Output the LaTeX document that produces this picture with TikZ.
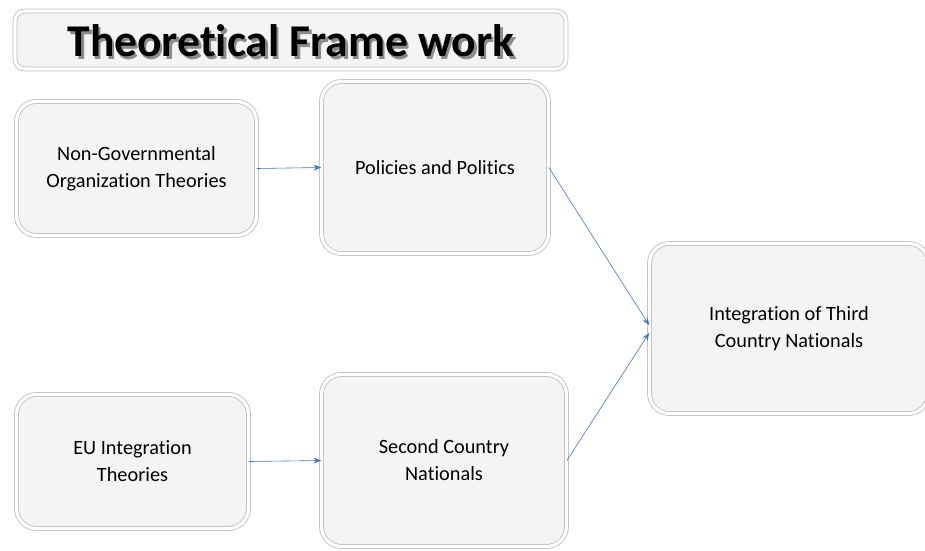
\documentclass[tikz,border=0pt]{standalone}
\usepackage{fontspec}
\setmainfont{Carlito}[Ligatures=NoCommon]
\usetikzlibrary{arrows.meta}
\definecolor{arrowblue}{HTML}{4472C4}
\definecolor{boxface}{HTML}{F4F4F4}
\definecolor{boxrim}{HTML}{BDBDBD}
\tikzset{
  bevelbox/.style={draw=boxrim, line width=0.8pt, double=white, double distance=3.2pt,
    fill=boxface, rounded corners=20pt, align=center, inner sep=0pt,
    font=\fontsize{20.3}{27}\selectfont},
  titlebox/.style={draw=boxrim, line width=0.8pt, double=white, double distance=3.2pt,
    fill=boxface, rounded corners=10pt, inner sep=0pt},
  link/.style={draw=arrowblue, line width=0.6pt, -{Stealth[length=7.5pt,width=6pt]}}
}
\newcommand{\shadowtext}[1]{\makebox[0pt][l]{\kern2.5pt\raisebox{-2.5pt}{\textcolor{black!45}{#1}}}#1}
\begin{document}
\begin{tikzpicture}[x=1pt,y=-1pt]
\useasboundingbox (0,0) rectangle (925,550);
% title
\node[titlebox, minimum width=551pt, minimum height=58pt] (title) at (290.5,40) {};
\node[font=\fontsize{45.5}{50}\bfseries\selectfont, inner sep=0pt] (titletext) at (291,42) {\shadowtext{Theoretical Frame work}};
% boxes
\node[bevelbox, minimum width=240pt, minimum height=134pt] (ngo) at (136.5,168.5) {Non-Governmental\\Organization Theories};
\node[bevelbox, minimum width=227pt, minimum height=172pt] (pol) at (435,167.5) {Policies and Politics};
\node[bevelbox, minimum width=279pt, minimum height=170pt] (int) at (789,328.5) {Integration of Third\\Country Nationals};
\node[bevelbox, minimum width=232pt, minimum height=134pt] (eu) at (132.5,461.5) {EU Integration\\Theories};
\node[bevelbox, minimum width=245pt, minimum height=172pt] (sec) at (444,460.5) {Second Country\\Nationals};
% connectors
\draw[link] (ngo.east) -- (pol.west);
\draw[link] (eu.east) -- (sec.west);
\draw[link] (pol.east) -- ([yshift=3.5pt]int.west);
\draw[link] (sec.east) -- ([yshift=-4.5pt]int.west);
\end{tikzpicture}
\end{document}
